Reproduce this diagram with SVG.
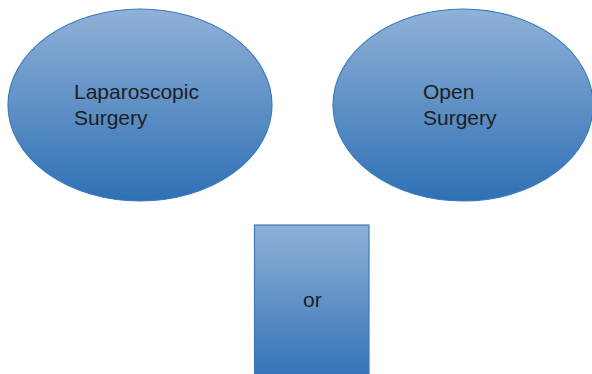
<svg xmlns="http://www.w3.org/2000/svg" width="592" height="374" viewBox="0 0 592 374">
<defs>
<linearGradient id="g" x1="0" y1="0" x2="0" y2="1">
<stop offset="0" stop-color="#90b1d7"/>
<stop offset="1" stop-color="#2e70b4"/>
</linearGradient>
<style>
.shape{fill:url(#g);stroke:#3a7bbd;stroke-width:1.2}
.t{font-family:"Liberation Sans",Arial,sans-serif;font-size:21px;fill:#1e1e1e}
</style>
</defs>
<rect width="592" height="374" fill="#fff"/>
<g id="laparoscopic">
<ellipse class="shape" cx="140" cy="105" rx="132" ry="96"/>
<text class="t" x="74" y="99">Laparoscopic</text>
<text class="t" x="74" y="125">Surgery</text>
</g>
<g id="open">
<ellipse class="shape" cx="463" cy="105" rx="130" ry="96"/>
<text class="t" x="423" y="99">Open</text>
<text class="t" x="423" y="125">Surgery</text>
</g>
<g id="or">
<rect class="shape" x="254.5" y="225" width="114.5" height="160"/>
<text class="t" x="303" y="307">or</text>
</g>
<g id="connectors"/>
</svg>
